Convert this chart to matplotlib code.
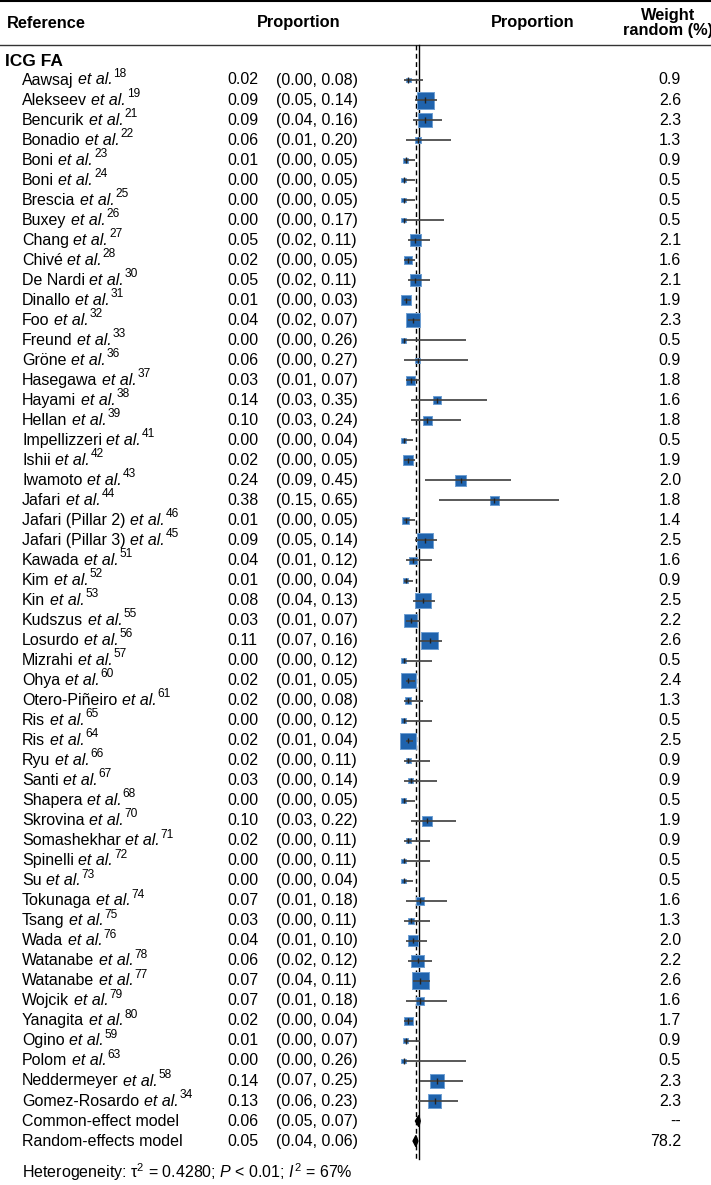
import numpy as np
import matplotlib
matplotlib.use("Agg")
import matplotlib.pyplot as plt

plt.rcParams['font.family'] = ['Liberation Sans', 'DejaVu Sans']
plt.rcParams['mathtext.fontset'] = 'custom'
plt.rcParams['mathtext.rm'] = 'Liberation Sans'
plt.rcParams['mathtext.it'] = 'Liberation Sans:italic'
plt.rcParams['mathtext.bf'] = 'Liberation Sans:bold'

# study data
names = ["Aawsaj", "Alekseev", "Bencurik", "Bonadio", "Boni", "Boni", "Brescia", "Buxey",
         "Chang", "Chivé", "De Nardi", "Dinallo", "Foo", "Freund", "Gröne", "Hasegawa",
         "Hayami", "Hellan", "Impellizzeri", "Ishii", "Iwamoto", "Jafari", "Jafari (Pillar 2)",
         "Jafari (Pillar 3)", "Kawada", "Kim", "Kin", "Kudszus", "Losurdo", "Mizrahi", "Ohya",
         "Otero-Piñeiro", "Ris", "Ris", "Ryu", "Santi", "Shapera", "Skrovina", "Somashekhar",
         "Spinelli", "Su", "Tokunaga", "Tsang", "Wada", "Watanabe", "Watanabe", "Wojcik",
         "Yanagita", "Ogino", "Polom", "Neddermeyer", "Gomez-Rosardo"]
refs = [18, 19, 21, 22, 23, 24, 25, 26, 27, 28, 30, 31, 32, 33, 36, 37, 38, 39, 41, 42, 43, 44,
        46, 45, 51, 52, 53, 55, 56, 57, 60, 61, 65, 64, 66, 67, 68, 70, 71, 72, 73, 74, 75, 76,
        78, 77, 79, 80, 59, 63, 58, 34]
prop = [0.02, 0.09, 0.09, 0.06, 0.01, 0.00, 0.00, 0.00, 0.05, 0.02, 0.05, 0.01, 0.04, 0.00,
        0.06, 0.03, 0.14, 0.10, 0.00, 0.02, 0.24, 0.38, 0.01, 0.09, 0.04, 0.01, 0.08, 0.03,
        0.11, 0.00, 0.02, 0.02, 0.00, 0.02, 0.02, 0.03, 0.00, 0.10, 0.02, 0.00, 0.00, 0.07,
        0.03, 0.04, 0.06, 0.07, 0.07, 0.02, 0.01, 0.00, 0.14, 0.13]
lower = [0.00, 0.05, 0.04, 0.01, 0.00, 0.00, 0.00, 0.00, 0.02, 0.00, 0.02, 0.00, 0.02, 0.00,
         0.00, 0.01, 0.03, 0.03, 0.00, 0.00, 0.09, 0.15, 0.00, 0.05, 0.01, 0.00, 0.04, 0.01,
         0.07, 0.00, 0.01, 0.00, 0.00, 0.01, 0.00, 0.00, 0.00, 0.03, 0.00, 0.00, 0.00, 0.01,
         0.00, 0.01, 0.02, 0.04, 0.01, 0.00, 0.00, 0.00, 0.07, 0.06]
upper = [0.08, 0.14, 0.16, 0.20, 0.05, 0.05, 0.05, 0.17, 0.11, 0.05, 0.11, 0.03, 0.07, 0.26,
         0.27, 0.07, 0.35, 0.24, 0.04, 0.05, 0.45, 0.65, 0.05, 0.14, 0.12, 0.04, 0.13, 0.07,
         0.16, 0.12, 0.05, 0.08, 0.12, 0.04, 0.11, 0.14, 0.05, 0.22, 0.11, 0.11, 0.04, 0.18,
         0.11, 0.10, 0.12, 0.11, 0.18, 0.04, 0.07, 0.26, 0.25, 0.23]
weight = [0.9, 2.6, 2.3, 1.3, 0.9, 0.5, 0.5, 0.5, 2.1, 1.6, 2.1, 1.9, 2.3, 0.5, 0.9, 1.8,
          1.6, 1.8, 0.5, 1.9, 2.0, 1.8, 1.4, 2.5, 1.6, 0.9, 2.5, 2.2, 2.6, 0.5, 2.4, 1.3,
          0.5, 2.5, 0.9, 0.9, 0.5, 1.9, 0.9, 0.5, 0.5, 1.6, 1.3, 2.0, 2.2, 2.6, 1.6, 1.7,
          0.9, 0.5, 2.3, 2.3]

# pooled estimates
pooled_labels = ["Common-effect model", "Random-effects model"]
pooled_est = [0.064, 0.052]
pooled_lo = [0.05, 0.04]
pooled_hi = [0.07, 0.06]
pooled_wt = ["--", "78.2"]

FS = 11.5
n = len(names)
rows = np.arange(n)
prow = [n, n + 1]

W, H = 711, 1185
row_h = 20.02
y0 = 80.0
ylim = ((H - y0) / row_h, -y0 / row_h)


def r(px):
    # pixel from top -> row units
    return (px - y0) / row_h


fig = plt.figure(figsize=(W / 100, H / 100), dpi=100)

# text layer
tx = fig.add_axes([0, 0, 1, 1])
tx.set_xlim(0, W)
tx.set_ylim(*ylim)
tx.axis('off')

# forest layer
x_left, x_right = 390, 600
zero_px, slope = 403.5, 239.0
fx = fig.add_axes([x_left / W, 0, (x_right - x_left) / W, 1])
fx.set_xlim((x_left - zero_px) / slope, (x_right - zero_px) / slope)
fx.set_ylim(*ylim)
fx.axis('off')

# header
tx.axhline(r(1), color='black', lw=1.5)
tx.axhline(r(45), color='#333333', lw=1.0)
tx.text(7, r(23), "Reference", fontsize=11.8, fontweight='bold', va='center', ha='left')
tx.text(299, r(23), "Proportion", fontsize=11.8, fontweight='bold', va='center', ha='center')
tx.text(533, r(23), "Proportion", fontsize=11.8, fontweight='bold', va='center', ha='center')
tx.text(668, r(23), "Weight\nrandom (%)", fontsize=11.8, fontweight='bold', va='center',
        ha='center', multialignment='center', linespacing=1.05)
tx.text(5, r(62), "ICG FA", fontsize=12.5, fontweight='bold', va='center', ha='left')

# study rows
col_est, col_ci, col_wt = 227, 276, 681
for i in range(n):
    t = tx.text(22, rows[i], names[i], fontsize=FS, va='center', ha='left')
    e = tx.annotate("et al.", xy=(1, 0.5), xycoords=t, xytext=(3.2, 0),
                    textcoords='offset points', fontsize=FS, style='italic',
                    va='center', ha='left')
    tx.annotate(str(refs[i]), xy=(1, 0.5), xycoords=e, xytext=(0.6, 4.5),
                textcoords='offset points', fontsize=8.6, va='center', ha='left')
    tx.text(col_est, rows[i], f"{prop[i]:.2f}", fontsize=FS, va='center', ha='left')
    tx.text(col_ci, rows[i], f"({lower[i]:.2f}, {upper[i]:.2f})", fontsize=FS, va='center', ha='left')
    tx.text(col_wt, rows[i], f"{weight[i]:.1f}", fontsize=FS, va='center', ha='right')

for j in range(2):
    tx.text(22, prow[j], pooled_labels[j], fontsize=FS, va='center', ha='left')
    tx.text(col_est, prow[j], f"{pooled_est[j]:.2f}", fontsize=FS, va='center', ha='left')
    tx.text(col_ci, prow[j], f"({pooled_lo[j]:.2f}, {pooled_hi[j]:.2f})", fontsize=FS,
            va='center', ha='left')
    tx.text(col_wt, prow[j], pooled_wt[j], fontsize=FS, va='center', ha='right')

tx.text(22, r(1172),
        "Heterogeneity: $\\mathrm{\\tau}^2$ = 0.4280; $\\mathit{P}$ < 0.01; $\\mathit{I}^2$ = 67%",
        fontsize=FS, va='center', ha='left')

# reference lines
fx.plot([pooled_est[0]] * 2, [r(45), r(1159)], color='black', lw=1.0, zorder=1)
fx.plot([pooled_est[1]] * 2, [r(45), r(1159)], color='black', lw=1.0, ls=(0, (3.5, 2.5)), zorder=1)

# squares, size grows with weight
w = np.array(weight)
side_px = 4.5 + 12.5 * ((w - 0.5) / 2.1) ** 2
fx.scatter(prop, rows, s=(side_px * 0.72) ** 2, marker='s', color='#1f63ad',
           edgecolor='#6f9fd2', linewidth=0.7, zorder=2)

# confidence intervals
fx.hlines(rows, lower, upper, color='#444444', lw=1.25, zorder=3)
fx.vlines(prop, rows - 0.13, rows + 0.13, color='#222222', lw=1.0, zorder=3)

# diamonds
for j in range(2):
    xs = [pooled_lo[j], pooled_est[j], pooled_hi[j], pooled_est[j]]
    ys = [prow[j], prow[j] - 0.28, prow[j], prow[j] + 0.28]
    fx.fill(xs, ys, color='black', zorder=4)

fig.savefig("out.png", dpi=100)
